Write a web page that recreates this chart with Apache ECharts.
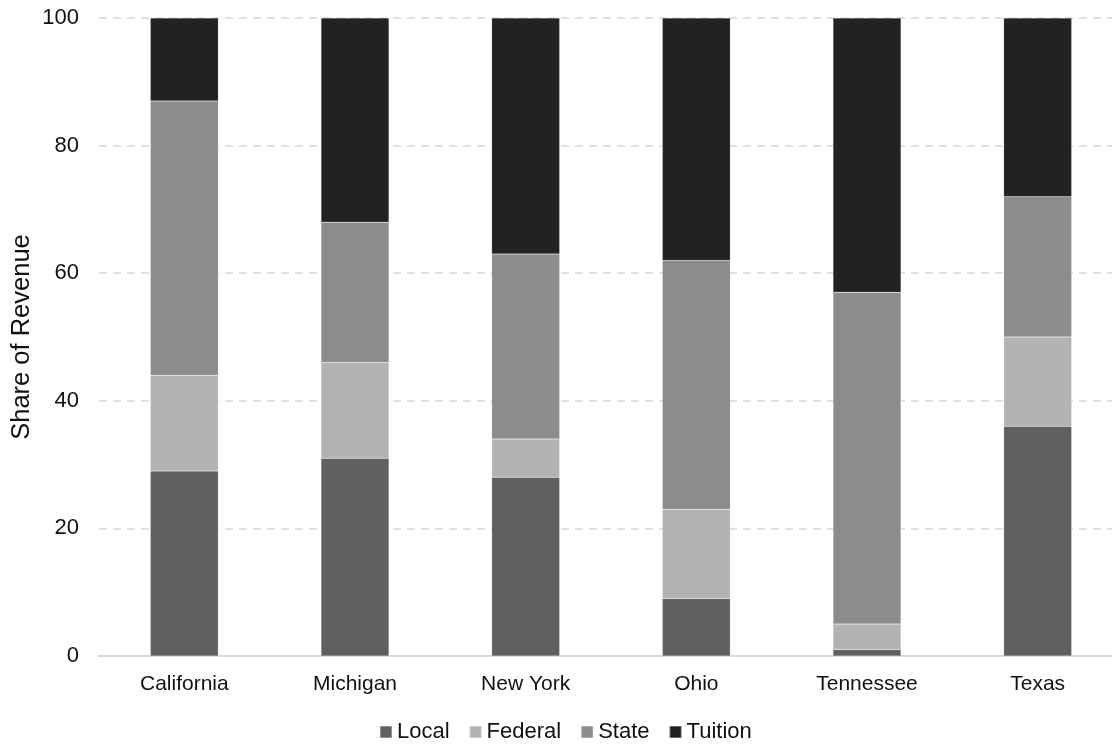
<!DOCTYPE html>
<html>
<head>
<meta charset="utf-8">
<script src="https://cdn.jsdelivr.net/npm/echarts@6/dist/echarts.min.js"></script>
<style>
  html, body { margin: 0; padding: 0; background: #fff; }
  #chart { width: 1112px; height: 745px; }
</style>
</head>
<body>
<div id="chart"></div>
<script>
// Revenue composition by state (percent of total)
const states = ['California', 'Michigan', 'New York', 'Ohio', 'Tennessee', 'Texas'];
const localShare = [29, 31, 28, 9, 1, 36];
const federalShare = [15, 15, 6, 14, 4, 14];
const stateShare = [43, 22, 29, 39, 52, 22];
const tuitionShare = [13, 32, 37, 38, 43, 28];
const yTicks = [0, 20, 40, 60, 80, 100];

const FONT = '"Liberation Sans", Arial, sans-serif';

const seriesDefs = [
  { name: 'Local', data: localShare, color: '#606060' },
  { name: 'Federal', data: federalShare, color: '#b3b3b3' },
  { name: 'State', data: stateShare, color: '#8c8c8c' },
  { name: 'Tuition', data: tuitionShare, color: '#222222' }
];

const chart = echarts.init(document.getElementById('chart'), null, { renderer: 'canvas' });

chart.setOption({
  animation: false,
  backgroundColor: '#ffffff',
  grid: { left: 99, right: -11, top: 18, bottom: 89, containLabel: false, outerBoundsMode: 'none' },
  legend: {
    top: 716,
    left: 374,
    itemWidth: 12,
    itemHeight: 12,
    itemGap: 19,
    icon: 'rect',
    textStyle: { fontFamily: FONT, fontSize: 22, color: '#111' },
    data: seriesDefs.map(s => s.name)
  },
  xAxis: {
    type: 'category',
    data: states,
    axisLine: { lineStyle: { color: '#d9d9d9', width: 2 } },
    axisTick: { show: false },
    axisLabel: { fontFamily: FONT, fontSize: 21, color: '#111', margin: 18 }
  },
  yAxis: {
    type: 'value',
    min: yTicks[0],
    max: yTicks[yTicks.length - 1],
    interval: 20,
    name: 'Share of Revenue',
    nameLocation: 'middle',
    nameGap: 64,
    nameMoveOverlap: false,
    nameTextStyle: { fontFamily: FONT, fontSize: 25.5, color: '#111' },
    axisLine: { show: false },
    axisTick: { show: false },
    axisLabel: { fontFamily: FONT, fontSize: 22, color: '#111', margin: 20 },
    splitLine: { lineStyle: { color: '#d9d9d9', type: [8, 6], width: 1.5 } }
  },
  series: seriesDefs.map(s => ({
    name: s.name,
    type: 'bar',
    stack: 'total',
    barWidth: 68,
    data: s.data,
    itemStyle: { color: s.color, borderColor: 'rgba(255,255,255,0.3)', borderWidth: 0.5 }
  }))
});
</script>
</body>
</html>
